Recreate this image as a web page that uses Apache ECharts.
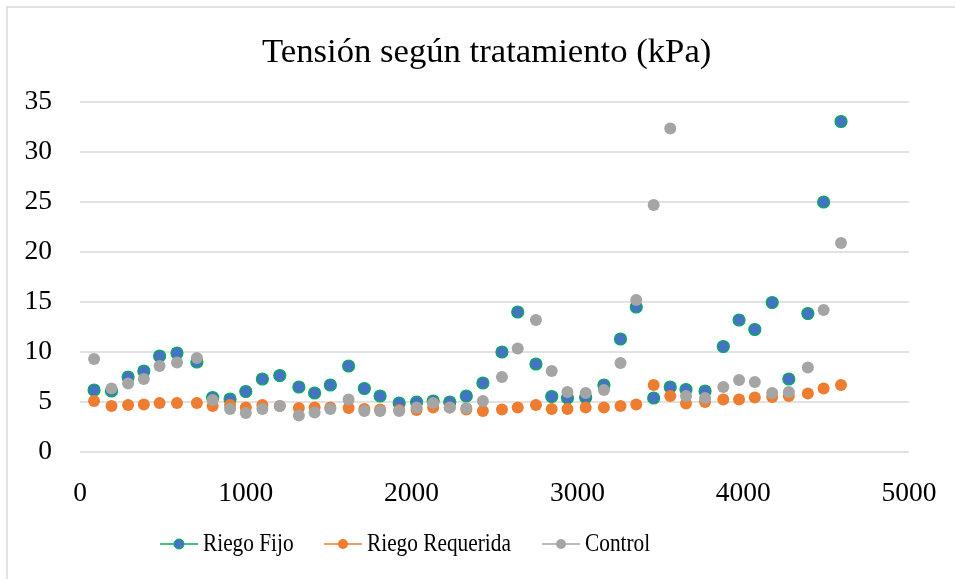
<!DOCTYPE html>
<html>
<head>
<meta charset="utf-8">
<script src="https://cdn.jsdelivr.net/npm/echarts@6/dist/echarts.min.js"></script>
<style>
  html, body { margin: 0; padding: 0; background: #fff; }
  #chart { width: 955px; height: 579px; }
</style>
</head>
<body>
<div id="chart"></div>
<script>
// x positions (same for all three series)
const xValues = [85, 190, 290, 385, 480, 585, 705, 800, 905, 1000, 1100, 1205, 1320, 1415, 1510,
  1620, 1715, 1810, 1925, 2030, 2130, 2230, 2330, 2430, 2545, 2640, 2750, 2845, 2940, 3050,
  3160, 3260, 3355, 3460, 3560, 3655, 3770, 3880, 3975, 4070, 4175, 4275, 4390, 4485, 4590];

const riegoFijo = [6.2, 6.1, 7.5, 8.1, 9.6, 9.9, 9.0, 5.45, 5.3, 6.05, 7.3, 7.65, 6.5, 5.9, 6.7,
  8.6, 6.35, 5.6, 4.9, 5.0, 5.1, 5.0, 5.6, 6.9, 10.0, 14.0, 8.8, 5.55, 5.4, 5.45,
  6.7, 11.3, 14.5, 5.4, 6.5, 6.25, 6.1, 10.55, 13.2, 12.25, 14.95, 7.3, 13.85, 25.0, 33.05];

const riegoRequerida = [5.1, 4.6, 4.7, 4.75, 4.9, 4.9, 4.9, 4.6, 4.7, 4.45, 4.7, 4.6, 4.4, 4.45, 4.45,
  4.4, 4.3, 4.25, 4.2, 4.2, 4.45, 4.45, 4.25, 4.1, 4.25, 4.45, 4.7, 4.3, 4.3, 4.45,
  4.45, 4.6, 4.75, 6.7, 5.6, 4.85, 5.0, 5.25, 5.25, 5.45, 5.5, 5.6, 5.85, 6.35, 6.7];

const control = [9.3, 6.35, 6.85, 7.3, 8.6, 8.95, 9.4, 5.2, 4.3, 3.9, 4.3, 4.6, 3.65, 3.95, 4.3,
  5.25, 4.1, 4.1, 4.1, 4.45, 4.9, 4.45, 4.4, 5.1, 7.5, 10.35, 13.2, 8.1, 6.0, 5.9,
  6.2, 8.9, 15.2, 24.7, 32.35, 5.6, 5.4, 6.5, 7.2, 7.0, 5.9, 6.0, 8.45, 14.2, 20.9];

const seriesNames = ['Riego Fijo', 'Riego Requerida', 'Control'];

const font = "'Liberation Serif', 'Times New Roman', serif";

const pairs = (ys) => xValues.map((x, i) => [x, ys[i]]);

const chart = echarts.init(document.getElementById('chart'));

const styles = [
  { fill: '#4472C4', line: '#00B050' },
  { fill: '#ED7D31', line: '#ED7D31' },
  { fill: '#A5A5A5', line: '#A5A5A5' }
];

const makeSeries = (i, ys) => ({
  name: seriesNames[i],
  type: 'scatter',
  data: pairs(ys),
  symbol: 'circle',
  symbolSize: 12,
  itemStyle: {
    color: styles[i].fill,
    borderColor: styles[i].line,
    borderWidth: i === 0 ? 1.2 : 0,
    opacity: 1
  },
  emphasis: { disabled: true },
  animation: false
});

// Excel-style legend (line with dot) drawn as graphics; the text in the
// original is narrow, so it gets squeezed a bit horizontally
const legendX = [160, 324, 542];
const legendY = 544;
const legendItems = [];
seriesNames.forEach((name, i) => {
  const x = legendX[i];
  legendItems.push(
    { type: 'line', shape: { x1: x, y1: legendY, x2: x + 38, y2: legendY },
      style: { stroke: styles[i].line, lineWidth: 1.5 }, silent: true },
    { type: 'circle', shape: { cx: x + 19, cy: legendY, r: 5 },
      style: { fill: styles[i].fill, stroke: styles[i].line, lineWidth: i === 0 ? 1 : 0 }, silent: true },
    { type: 'text', x: x + 43, y: legendY, scaleX: 0.82,
      style: { text: name, font: '26px ' + font, fill: '#000', verticalAlign: 'middle', align: 'left' },
      silent: true }
  );
});

const options = {
  backgroundColor: '#fff',
  title: {
    text: 'Tensión según tratamiento (kPa)',
    left: 262,
    top: 35,
    padding: 0,
    textStyle: { fontFamily: font, fontSize: 34.7, fontWeight: 'normal', color: '#000' }
  },
  grid: { left: 80, right: 46, top: 102, bottom: 127 },
  xAxis: {
    type: 'value',
    min: 0,
    max: 5000,
    interval: 1000,
    axisLine: { show: false },
    axisTick: { show: false },
    splitLine: { show: false },
    axisLabel: { fontFamily: font, fontSize: 27.5, color: '#000', margin: 28, formatter: (v) => String(v) }
  },
  yAxis: {
    type: 'value',
    min: 0,
    max: 35,
    interval: 5,
    axisLine: { show: false },
    axisTick: { show: false },
    splitLine: { lineStyle: { color: '#D9D9D9', width: 1.5 } },
    axisLabel: { fontFamily: font, fontSize: 27.5, color: '#000', margin: 28 }
  },
  legend: { show: false },
  graphic: [
    {
      type: 'rect',
      shape: { x: 7, y: 7, width: 960, height: 590 },
      style: { fill: 'none', stroke: '#D9D9D9', lineWidth: 1.5 },
      silent: true
    }
  ].concat(legendItems),
  series: [
    makeSeries(0, riegoFijo),
    makeSeries(1, riegoRequerida),
    makeSeries(2, control)
  ]
};

chart.setOption(options);
</script>
</body>
</html>
